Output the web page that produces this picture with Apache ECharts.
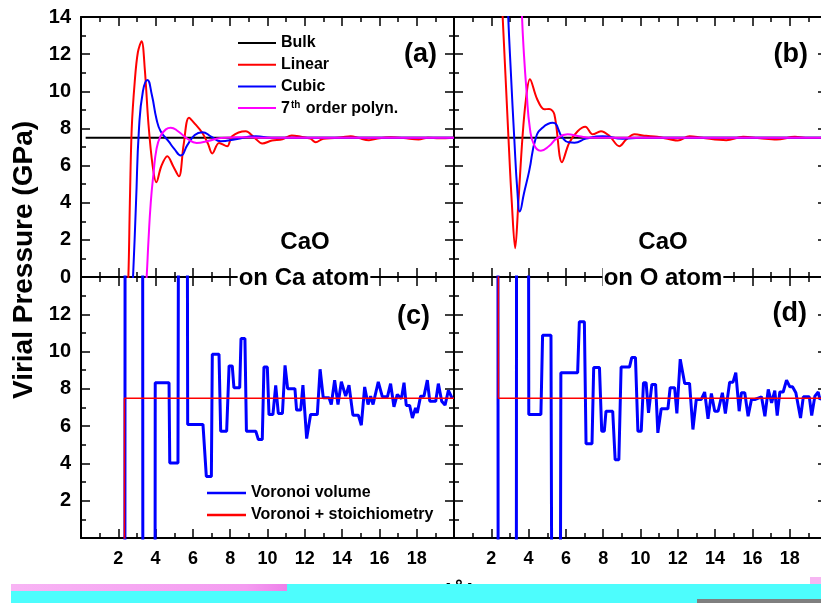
<!DOCTYPE html>
<html><head><meta charset="utf-8">
<script src="https://cdn.jsdelivr.net/npm/echarts@6/dist/echarts.min.js"></script>
<style>html,body{margin:0;padding:0;background:#fff}#c{width:821px;height:603px}</style>
</head><body><div id="c"></div>
<script>
const FONT = '"Liberation Sans", Arial, Helvetica, sans-serif';

// ---- axis ranges / ticks
const xRange = [0, 20];
const yRange = [0, 14];
const xLabelValues = [2, 4, 6, 8, 10, 12, 14, 16, 18];
const yLabelsTop = [0, 2, 4, 6, 8, 10, 12, 14];
const yLabelsBottom = [2, 4, 6, 8, 10, 12];

// ---- panel (a): CaO on Ca atom, virial pressure profiles
const bulkA = [[0.25, 7.5], [20, 7.5]];
const linearA = [[2.45,-1.5],[2.54,0],[2.62,4],[2.72,8],[2.88,10.5],[3.05,12.1],[3.25,12.7],[3.42,11.2],[3.62,8.2],[3.84,6.0],[4.04,5.1],[4.3,5.95],[4.63,6.5],[4.95,5.95],[5.25,5.42],[5.5,7.1],[5.79,8.58],[6.15,8.2],[6.49,7.78],[6.8,7.2],[7.04,6.65],[7.4,7.22],[7.84,7.04],[8.1,7.58],[8.83,7.85],[9.3,7.5],[9.72,7.19],[10.24,7.35],[10.8,7.42],[11.3,7.62],[11.8,7.55],[12.3,7.45],[12.58,7.26],[13.0,7.45],[13.6,7.48],[14.0,7.52],[14.46,7.58],[14.9,7.48],[15.44,7.37],[16.0,7.47],[16.6,7.52],[17.3,7.48],[18.1,7.4],[18.6,7.5],[19.2,7.47],[20,7.5]];
const cubicA = [[2.72,-1],[2.79,0],[2.95,4],[3.11,8],[3.32,10],[3.56,10.61],[3.8,9.8],[4.05,8.5],[4.27,7.85],[4.7,7.3],[5.0,6.9],[5.35,6.54],[5.7,7.1],[6.1,7.65],[6.5,7.8],[7.0,7.55],[7.49,7.31],[8.3,7.42],[9.37,7.58],[10.2,7.5],[12,7.5],[20,7.5]];
const poly7A = [[3.45,-1],[3.52,0],[3.62,2],[3.74,4],[3.88,5.5],[4.05,6.9],[4.27,7.6],[4.55,7.95],[4.81,8.04],[5.2,7.85],[5.7,7.45],[6.2,7.22],[6.8,7.32],[7.5,7.48],[8.5,7.52],[10,7.5],[20,7.5]];

// ---- panel (b): CaO on O atom
const bulkB = [[0, 7.5], [20, 7.5]];
const linearB = [[2.5,16],[2.6,14.2],[2.92,7.5],[3.1,4],[3.28,1.55],[3.45,4],[3.67,7.5],[3.85,9.5],[4.07,10.65],[4.45,9.6],[4.84,9.03],[5.1,9.05],[5.38,8.76],[5.79,6.18],[6.18,7.23],[6.63,7.85],[7.04,8.09],[7.44,7.68],[7.88,7.85],[8.33,7.6],[8.87,7.04],[9.23,7.4],[9.68,7.68],[10.3,7.6],[10.9,7.55],[11.56,7.42],[12.0,7.35],[12.63,7.58],[13.3,7.5],[14.6,7.37],[15.5,7.55],[16.4,7.47],[17.3,7.4],[18.28,7.55],[19,7.48],[20,7.5]];
const cubicB = [[2.85,16],[2.9,14.2],[3.05,11],[3.23,7.5],[3.4,4.6],[3.53,3.53],[3.75,4.5],[4.03,5.7],[4.39,7.5],[4.75,8.04],[5.29,8.3],[5.82,7.5],[6.15,7.25],[6.46,7.23],[7.08,7.45],[7.97,7.58],[9.05,7.45],[10,7.5],[20,7.5]];
const poly7B = [[3.6,16],[3.64,14.2],[3.75,12],[3.89,10],[4.07,8],[4.3,7.1],[4.66,6.8],[5.1,7.05],[5.5,7.45],[6.09,7.68],[6.7,7.58],[7.3,7.5],[20,7.5]];

// ---- panel (c): Voronoi, on Ca atom
const voronoiC = [[2.34,-30],[2.37,30],[3.30,30],[3.33,-30],[3.95,-30],[3.98,8.33],[4.72,8.33],[4.76,4.02],[5.2,4.02],[5.25,30],[5.68,30],[5.72,6.09],[6.54,6.09],[6.72,3.30],[6.99,3.30],[7.04,9.85],[7.40,9.85],[7.49,5.73],[7.81,5.73],[7.94,9.23],[8.11,9.23],[8.2,8.06],[8.51,8.06],[8.58,10.70],[8.79,10.70],[8.87,5.73],[9.37,5.73],[9.51,5.28],[9.72,5.28],[9.81,9.17],[9.99,9.17],[10.08,6.62],[10.29,6.62],[10.44,8.19],[10.58,6.68],[10.8,6.68],[10.94,9.26],[11.08,8.01],[11.47,8.01],[11.56,6.86],[11.78,6.86],[11.9,8.20],[12.1,5.33],[12.2,5.33],[12.31,6.62],[12.67,6.62],[12.82,9.05],[12.99,7.52],[13.3,7.52],[13.42,7.16],[13.6,8.47],[13.78,7.16],[13.96,8.38],[14.19,7.61],[14.37,8.19],[14.58,6.59],[14.87,6.59],[15.03,6.05],[15.21,8.10],[15.39,7.16],[15.53,7.61],[15.66,7.16],[15.76,7.16],[15.94,8.38],[16.16,7.57],[16.43,7.57],[16.6,8.28],[16.78,7.04],[16.96,7.70],[17.18,7.47],[17.32,8.33],[17.44,7.11],[17.62,7.11],[17.77,6.44],[17.94,6.98],[18.03,6.71],[18.21,7.61],[18.39,7.61],[18.57,8.47],[18.7,7.34],[19.02,7.34],[19.16,8.28],[19.34,7.34],[19.52,7.13],[19.7,7.92],[19.91,7.47]];
const stoichC = [[2.33,-1],[2.33,7.5],[20,7.5]];

// ---- panel (d): Voronoi, on O atom
const voronoiD = [[2.35,30],[2.38,-30],[3.33,-30],[3.36,30],[3.98,30],[4.01,6.62],[4.66,6.62],[4.75,10.88],[5.2,10.88],[5.32,-30],[5.65,-30],[5.73,8.87],[6.63,8.87],[6.72,11.6],[6.99,11.6],[7.08,5.06],[7.4,5.06],[7.49,9.14],[7.8,9.14],[7.92,5.73],[8.06,5.73],[8.15,6.8],[8.51,6.8],[8.64,4.2],[8.84,4.2],[8.96,9.17],[9.41,9.17],[9.53,9.68],[9.73,9.68],[9.86,5.73],[10.04,5.73],[10.16,8.33],[10.3,8.33],[10.43,6.71],[10.61,8.24],[10.81,8.24],[10.93,5.64],[11.11,6.93],[11.47,6.93],[11.59,8.06],[11.83,8.06],[11.95,6.68],[12.13,9.59],[12.37,8.29],[12.63,8.29],[12.81,5.82],[12.99,7.43],[13.26,7.43],[13.44,7.83],[13.62,6.39],[13.8,7.75],[13.98,6.8],[14.16,6.8],[14.39,7.79],[14.55,6.68],[14.78,8.36],[14.96,8.36],[15.11,8.87],[15.29,6.8],[15.41,7.79],[15.59,7.79],[15.77,6.53],[15.95,7.43],[16.13,7.43],[16.49,7.57],[16.67,6.53],[16.85,7.97],[17.03,7.25],[17.2,7.9],[17.33,6.57],[17.47,7.83],[17.65,7.83],[17.83,8.47],[18.01,8.11],[18.15,8.11],[18.33,7.79],[18.58,6.44],[18.73,7.57],[19.05,7.57],[19.18,6.57],[19.35,7.61],[19.53,7.83],[19.62,7.43],[19.8,7.6],[20,7.5]];
const stoichD = [[2.38,16],[2.38,7.5],[20,7.5]];

// ---- layout
const grids = [
  {left: 81, top: 17, width: 373, height: 260},
  {left: 454, top: 17, width: 373, height: 260},
  {left: 81, top: 277, width: 373, height: 261},
  {left: 454, top: 277, width: 373, height: 261}
].map(g => Object.assign({containLabel: false, outerBoundsMode: 'none'}, g));

const tickStyle = {color: '#000', width: 1.5};
function xAx(g, pos, showLabels) {
  return {
    type: 'value', gridIndex: g, position: pos, min: xRange[0], max: xRange[1], interval: 2,
    axisLine: {show: true, onZero: false, lineStyle: {color: '#000', width: 2}},
    axisTick: {show: true, inside: true, length: 9, lineStyle: tickStyle},
    minorTick: {show: true, splitNumber: 2, length: 5, lineStyle: tickStyle},
    splitLine: {show: false}, minorSplitLine: {show: false},
    axisLabel: {show: showLabels, fontSize: 18, fontWeight: 'bold', color: '#000', fontFamily: FONT, margin: 12,
      formatter: v => xLabelValues.includes(v) ? String(v) : ''}
  };
}
function yAx(g, pos, showLabels, labelSet) {
  return {
    type: 'value', gridIndex: g, position: pos, min: yRange[0], max: yRange[1], interval: 2,
    axisLine: {show: true, onZero: false, lineStyle: {color: '#000', width: 2}},
    axisTick: {show: true, inside: true, length: 9, lineStyle: tickStyle},
    minorTick: {show: true, splitNumber: 2, length: 5, lineStyle: tickStyle},
    splitLine: {show: false}, minorSplitLine: {show: false},
    axisLabel: {show: showLabels, fontSize: 20, fontWeight: 'bold', color: '#000', fontFamily: FONT, margin: 10,
      formatter: v => labelSet.includes(v) ? String(v) : ''}
  };
}
const xAxes = [], yAxes = [];
for (let g = 0; g < 4; g++) {
  xAxes.push(xAx(g, 'bottom', g >= 2));
  xAxes.push(xAx(g, 'top', false));
  yAxes.push(yAx(g, 'left', g === 0 || g === 2, g === 0 ? yLabelsTop : yLabelsBottom));
  yAxes.push(yAx(g, 'right', false, []));
}

function line(name, g, data, color, width, smooth, z) {
  return {
    name, type: 'line', xAxisIndex: 2 * g, yAxisIndex: 2 * g, data,
    symbol: 'none', smooth: smooth, clip: true, color: color,
    lineStyle: {color: color, width: width}, z: z, silent: true, animation: false
  };
}
const P7 = '7th order polyn.';
const series = [
  line('Bulk', 0, bulkA, '#000000', 2, false, 2),
  line('Linear', 0, linearA, '#ff0000', 2, 0.35, 3),
  line('Cubic', 0, cubicA, '#0000ff', 2, 0.5, 4),
  line(P7, 0, poly7A, '#ff00ff', 2, 0.5, 5),
  line('Bulk', 1, bulkB, '#000000', 2, false, 2),
  line('Linear', 1, linearB, '#ff0000', 2, 0.35, 3),
  line('Cubic', 1, cubicB, '#0000ff', 2, 0.5, 4),
  line(P7, 1, poly7B, '#ff00ff', 2, 0.5, 5),
  line('Voronoi volume', 2, voronoiC, '#0000ff', 3, false, 3),
  line('Voronoi + stoichiometry', 2, stoichC, '#ff0000', 1.5, false, 4),
  line('Voronoi volume', 3, voronoiD, '#0000ff', 3, false, 3),
  line('Voronoi + stoichiometry', 3, stoichD, '#ff0000', 1.5, false, 4)
];

const legText = {fontSize: 16, fontWeight: 'bold', color: '#000', fontFamily: FONT, lineHeight: 16,
  rich: {
    n: {fontSize: 16, fontWeight: 'bold', color: '#000', fontFamily: FONT, lineHeight: 16},
    s: {fontSize: 10, fontWeight: 'bold', color: '#000', fontFamily: FONT, lineHeight: 10, verticalAlign: 'top', padding: [0, 1, 6, 1]}
  }};
const legends = [
  {orient: 'vertical', left: 238, top: 35, padding: 0, icon: 'rect', itemWidth: 38, itemHeight: 2, itemGap: 5.7,
   data: ['Bulk', 'Linear', 'Cubic', P7], textStyle: legText, selectedMode: false,
   formatter: n => n === P7 ? '{n|7}{s|th}{n| order polyn.}' : n},
  {orient: 'vertical', left: 207, top: 485, padding: 0, icon: 'rect', itemWidth: 39, itemHeight: 2.5, itemGap: 6,
   data: ['Voronoi volume', 'Voronoi + stoichiometry'], textStyle: legText, selectedMode: false}
];

function txt(text, x, y, size, align, extra) {
  return Object.assign({type: 'text', x, y, z: 100,
    style: Object.assign({text, fill: '#000', font: 'bold ' + size + 'px ' + FONT, align: align, verticalAlign: 'middle'}, (extra && extra.style) || {})},
    extra && extra.rotation ? {rotation: extra.rotation} : {});
}
const graphic = [
  txt('Virial Pressure (GPa)', 24, 260, 28, 'center', {rotation: Math.PI / 2}),
  txt('(a)', 437, 55, 27, 'right'),
  txt('(b)', 808, 55, 27, 'right'),
  txt('(c)', 430, 317, 27, 'right'),
  txt('(d)', 807, 314, 27, 'right'),
  txt('CaO', 305, 242, 24, 'center'),
  txt('CaO', 663, 242, 24, 'center'),
  txt('on Ca atom', 304, 278, 24, 'center', {style: {backgroundColor: '#fff', padding: [4, 1, 4, 1]}}),
  txt('on O atom', 663, 278, 24, 'center', {style: {backgroundColor: '#fff', padding: [4, 1, 4, 1]}}),
  txt('r (Å)', 451, 594, 24, 'center'),
  {type: 'rect', z: 110, shape: {x: 11, y: 584, width: 276, height: 7},
   style: {fill: new echarts.graphic.LinearGradient(0, 0, 1, 0, [{offset: 0, color: '#f8b4f4'}, {offset: 0.85, color: '#f49cf0'}, {offset: 1, color: '#ee80ea'}])}},
  {type: 'rect', z: 110, shape: {x: 287, y: 584, width: 534, height: 7}, style: {fill: '#4dfdfd'}},
  {type: 'rect', z: 110, shape: {x: 11, y: 591, width: 810, height: 12}, style: {fill: '#4dfdfd'}},
  {type: 'rect', z: 111, shape: {x: 697, y: 599, width: 124, height: 4}, style: {fill: '#7f7f7f'}},
  {type: 'rect', z: 111, shape: {x: 810, y: 577, width: 11, height: 7}, style: {fill: '#f6b6f2'}}
];

const chart = echarts.init(document.getElementById('c'), null, {renderer: 'canvas'});
chart.setOption({
  backgroundColor: '#ffffff',
  animation: false,
  grid: grids,
  xAxis: xAxes,
  yAxis: yAxes,
  legend: legends,
  series: series,
  graphic: graphic
});
</script></body></html>
